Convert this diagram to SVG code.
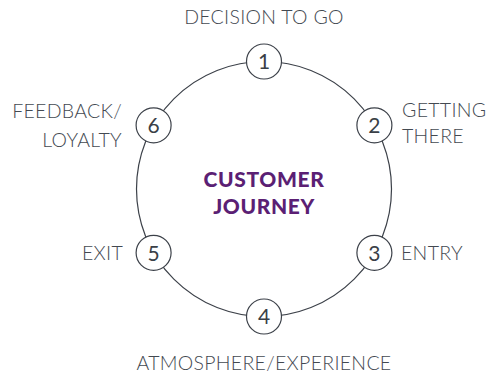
<svg xmlns="http://www.w3.org/2000/svg" width="490" height="375" viewBox="0 0 490 375">
  <style>
    .ring { fill: none; stroke: #3c4149; stroke-width: 1.2; }
    .node circle { fill: #ffffff; stroke: #3c4149; stroke-width: 1.2; }
    .num { font-family: Lato, "Liberation Sans", sans-serif; font-size: 21px; fill: #3a3f47; text-anchor: middle; }
    .lbl { font-family: Lato, "Liberation Sans", sans-serif; font-weight: 300; font-size: 19.5px; fill: #434951; letter-spacing: 0.3px; }
    .title { font-family: Lato, "Liberation Sans", sans-serif; font-weight: 900; font-size: 21px; fill: #5b1f74; text-anchor: middle; letter-spacing: 0.6px; }
  </style>
  <rect width="490" height="375" fill="#ffffff"/>

  <!-- journey ring -->
  <g id="connectors">
    <circle class="ring" cx="264" cy="189" r="127.5"/>
  </g>

  <g id="center-title">
    <text class="title" x="264" y="187">CUSTOMER</text>
    <text class="title" x="264" y="214">JOURNEY</text>
  </g>

  <g id="node-1" class="node">
    <circle cx="264" cy="61.5" r="17.5"/>
    <text class="num" x="264" y="69">1</text>
    <text class="lbl" x="264" y="24" text-anchor="middle">DECISION TO GO</text>
  </g>
  <g id="node-2" class="node">
    <circle cx="374.4" cy="125.3" r="17.5"/>
    <text class="num" x="374.4" y="133">2</text>
    <text class="lbl" x="402" y="117">GETTING</text>
    <text class="lbl" x="402" y="143">THERE</text>
  </g>
  <g id="node-3" class="node">
    <circle cx="374.4" cy="252.8" r="17.5"/>
    <text class="num" x="374.4" y="260.5">3</text>
    <text class="lbl" x="401" y="260">ENTRY</text>
  </g>
  <g id="node-4" class="node">
    <circle cx="264" cy="316.5" r="17.5"/>
    <text class="num" x="264" y="324">4</text>
    <text class="lbl" x="264" y="370" text-anchor="middle">ATMOSPHERE/EXPERIENCE</text>
  </g>
  <g id="node-5" class="node">
    <circle cx="153.6" cy="252.8" r="17.5"/>
    <text class="num" x="153.6" y="260.5">5</text>
    <text class="lbl" x="123" y="260" text-anchor="end">EXIT</text>
  </g>
  <g id="node-6" class="node">
    <circle cx="153.6" cy="125.3" r="17.5"/>
    <text class="num" x="153.6" y="133">6</text>
    <text class="lbl" x="122" y="118" text-anchor="end">FEEDBACK/</text>
    <text class="lbl" x="122" y="147" text-anchor="end">LOYALTY</text>
  </g>
</svg>
